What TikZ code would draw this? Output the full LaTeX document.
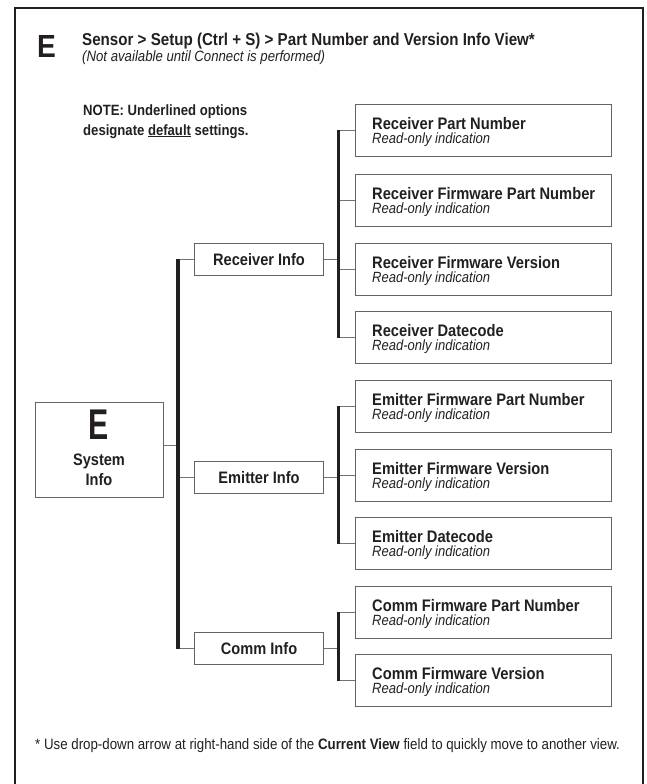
\documentclass[tikz,border=0pt]{standalone}
\usepackage{fontspec}
\usepackage{graphicx}
\setmainfont{Liberation Sans}[FakeStretch=0.88]
\definecolor{ink}{RGB}{35,31,32}
\definecolor{boxgray}{RGB}{100,100,100}
\definecolor{linegray}{RGB}{115,115,115}
\begin{document}
\begin{tikzpicture}[x=1pt,y=-1pt,
  every node/.style={inner sep=0pt, text=ink},
  leaf/.style={draw=boxgray, line width=1.1pt, minimum width=256pt, minimum height=52pt, anchor=north west},
  infobox/.style={draw=boxgray, line width=1.1pt, minimum width=129pt, minimum height=32pt, anchor=north west,
    font=\fontsize{16.6}{19}\selectfont\bfseries},
  ltitle/.style={anchor=base west, font=\fontsize{16.7}{19}\selectfont\bfseries},
  lsub/.style={anchor=base west, font=\fontsize{14.8}{17}\selectfont\itshape},
  bar/.style={draw=ink, line width=3.4pt},
  branch/.style={draw=linegray, line width=1.1pt},
  frame/.style={draw=ink, line width=2.6pt}
]
\useasboundingbox (0,0) rectangle (646,784);
% outer frame (open at the bottom)
\draw[frame] (15,800) -- (15,8) -- (643,8) -- (643,800);

% header
\node[anchor=base west, font=\fontsize{32}{34}\selectfont\bfseries] (bigE) at (37,57) {E};
\node[anchor=base west, font=\fontsize{17.2}{20}\selectfont\bfseries] (title) at (82,46)
  {Sensor > Setup (Ctrl + S) > Part Number and Version Info View*};
\node[anchor=base west, font=\fontsize{15}{17}\selectfont\itshape] (subtitle) at (82,62)
  {(Not available until Connect is performed)};

% note
\node[anchor=base west, font=\fontsize{14.9}{17}\selectfont\bfseries] (note1) at (83,115)
  {NOTE: Underlined options};
\node[anchor=base west, font=\fontsize{14.9}{17}\selectfont\bfseries] (note2) at (83,135)
  {designate \underline{default} settings.};

% system info box
\node[draw=boxgray, line width=1.1pt, minimum width=128pt, minimum height=95pt, anchor=north west] (sys) at (35,402) {};
\node[anchor=base, font=\fontsize{43}{45}\selectfont\bfseries] (sysE) at (99,439) {\scalebox{0.8}[1]{E}};
\node[anchor=base, font=\fontsize{16.6}{19}\selectfont\bfseries] (sysA) at (99,465) {System};
\node[anchor=base, font=\fontsize{16.6}{19}\selectfont\bfseries] (sysB) at (99,485) {Info};

% second level
\node[infobox] (rinfo) at (194,243) {Receiver Info};
\node[infobox] (einfo) at (194,461) {Emitter Info};
\node[infobox] (cinfo) at (194,632) {Comm Info};

% leaves
\newcommand{\leafbox}[3]{%
  \node[leaf] (#1) at (355,#2) {};
  \node[ltitle] (#1t) at (372,#2+25) {#3};
  \node[lsub] (#1s) at (372,#2+39) {Read-only indication};
}
\leafbox{rpn}{104}{Receiver Part Number}
\leafbox{rfpn}{174}{Receiver Firmware Part Number}
\leafbox{rfv}{243}{Receiver Firmware Version}
\leafbox{rd}{311}{Receiver Datecode}
\leafbox{efpn}{380}{Emitter Firmware Part Number}
\leafbox{efv}{449}{Emitter Firmware Version}
\leafbox{ed}{517}{Emitter Datecode}
\leafbox{cfpn}{586}{Comm Firmware Part Number}
\leafbox{cfv}{654}{Comm Firmware Version}

% connectors
\coordinate (mb) at (178,0);
\coordinate (sb) at (338.5,0);
\coordinate (sysout) at ([yshift=5pt]sys.east);
\draw[branch] (sysout) -- (mb |- sysout);
\draw[branch] (mb |- rinfo.west) -- (rinfo.west);
\draw[branch] (mb |- einfo.west) -- (einfo.west);
\draw[branch] (mb |- cinfo.west) -- (cinfo.west);
\draw[bar] ([yshift=0.55pt]mb |- rinfo.west) -- ([yshift=-0.55pt]mb |- cinfo.west);

\draw[branch] (rinfo.east) -- (sb |- rinfo.east);
\draw[branch] (einfo.east) -- (sb |- einfo.east);
\draw[branch] (cinfo.east) -- (sb |- cinfo.east);
\foreach \n in {rpn,rfpn,rfv,rd,efpn,efv,ed,cfpn,cfv}{
  \draw[branch] (sb |- \n.west) -- (\n.west);
}
\draw[bar] ([yshift=0.55pt]sb |- rpn.west) -- ([yshift=-0.55pt]sb |- rd.west);
\draw[bar] ([yshift=0.55pt]sb |- efpn.west) -- ([yshift=-0.55pt]sb |- ed.west);
\draw[bar] ([yshift=0.55pt]sb |- cfpn.west) -- ([yshift=-0.55pt]sb |- cfv.west);

% footnote
\node[anchor=base west, font=\fontsize{15.1}{17}\selectfont] (foot) at (35,749)
  {* Use drop-down arrow at right-hand side of the \textbf{Current View} field to quickly move to another view.};
\end{tikzpicture}
\end{document}
